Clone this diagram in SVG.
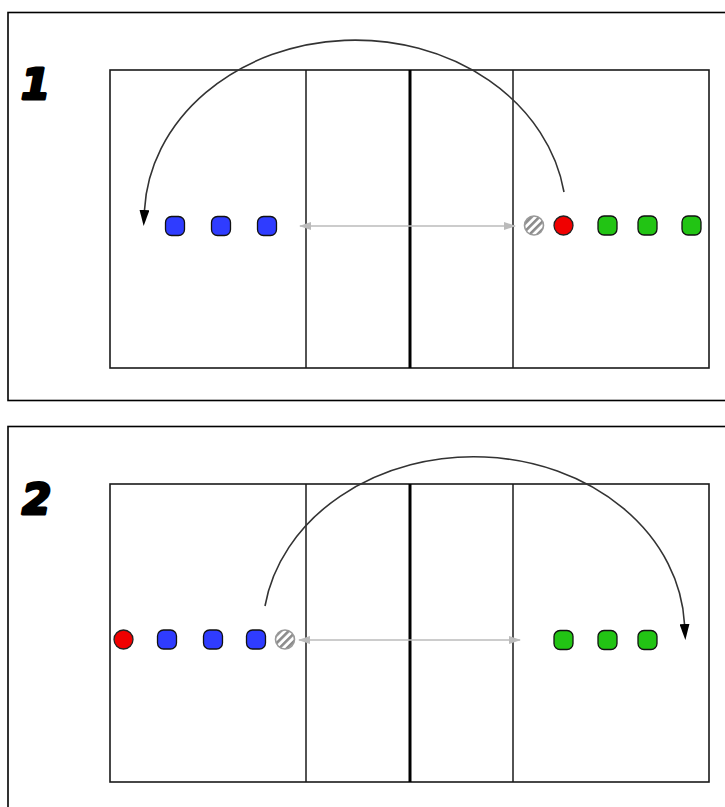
<svg xmlns="http://www.w3.org/2000/svg" width="725" height="807" viewBox="0 0 725 807">
<style>
.frame{fill:none;stroke:#000;stroke-width:1.6}
.court{fill:none;stroke:#1a1a1a;stroke-width:1.6}
.net{stroke:#000;stroke-width:3}
.line{stroke:#1a1a1a;stroke-width:1.5}
.num{font-family:"DejaVu Sans","Liberation Sans",sans-serif;font-weight:bold;font-style:italic;font-size:42px;fill:#000;stroke:#000;stroke-width:3;stroke-linejoin:round}
.blue{fill:#2f3cff;stroke:#111;stroke-width:1.3}
.green{fill:#22c414;stroke:#111;stroke-width:1.3}
.red{fill:#f00000;stroke:#222;stroke-width:1.3}
.ball{fill:url(#hatch);stroke:#999;stroke-width:1.6}
.arc{fill:none;stroke:#333;stroke-width:1.6}
.pass{stroke:#bbb;stroke-width:1.6}
</style>
<defs>
<pattern id="hatch" patternUnits="userSpaceOnUse" width="5.5" height="5.5" patternTransform="rotate(-45)">
<rect width="5.5" height="5.5" fill="#fff"/>
<rect width="5.5" height="2.6" fill="#8a8a8a"/>
</pattern>
<marker id="ah" markerUnits="userSpaceOnUse" markerWidth="16" markerHeight="10" refX="0" refY="5" orient="auto">
<path d="M0,0 L16,5 L0,10 Z" fill="#000"/>
</marker>
<marker id="ga" markerUnits="userSpaceOnUse" markerWidth="12" markerHeight="8" refX="11" refY="4" orient="auto-start-reverse">
<path d="M0,0 L12,4 L0,8 Z" fill="#bbb"/>
</marker>
</defs>

<g id="panel1">
<rect class="frame" x="8" y="12.5" width="730" height="388"/>
<text class="num" x="21" y="99">1</text>
<g id="court1">
<rect class="court" x="110" y="70" width="599" height="298"/>
<line class="line" x1="306" y1="70" x2="306" y2="368"/>
<line class="net" x1="410" y1="70" x2="410" y2="368"/>
<line class="line" x1="513" y1="70" x2="513" y2="368"/>
</g>
</g>

<g id="panel2">
<rect class="frame" x="8" y="426.5" width="730" height="400"/>
<text class="num" x="22" y="514">2</text>
<g id="court2">
<rect class="court" x="110" y="484" width="599" height="298"/>
<line class="line" x1="306" y1="484" x2="306" y2="782"/>
<line class="net" x1="410" y1="484" x2="410" y2="782"/>
<line class="line" x1="513" y1="484" x2="513" y2="782"/>
</g>
</g>

<g id="connectors">
<path class="arc" d="M564,192 A211,178 0 0 0 144.5,210" marker-end="url(#ah)"/>
<line class="pass" x1="300" y1="226" x2="515" y2="226" marker-start="url(#ga)" marker-end="url(#ga)"/>
<path class="arc" d="M265,606 A211,175 0 0 1 684.5,624" marker-end="url(#ah)"/>
<line class="pass" x1="299" y1="640" x2="520" y2="640" marker-start="url(#ga)" marker-end="url(#ga)"/>
</g>

<g id="players1">
<rect id="b1a" class="blue" x="165.5" y="216.5" width="19" height="19" rx="6"/>
<rect id="b1b" class="blue" x="211.5" y="216.5" width="19" height="19" rx="6"/>
<rect id="b1c" class="blue" x="257.5" y="216.5" width="19" height="19" rx="6"/>
<circle id="ball1" class="ball" cx="534" cy="225.5" r="9.5"/>
<circle id="r1" class="red" cx="563.5" cy="225.5" r="9.5"/>
<rect id="g1a" class="green" x="598" y="216" width="19" height="19" rx="6"/>
<rect id="g1b" class="green" x="638" y="216" width="19" height="19" rx="6"/>
<rect id="g1c" class="green" x="682" y="216" width="19" height="19" rx="6"/>
</g>

<g id="players2">
<circle id="r2" class="red" cx="123.5" cy="639.5" r="9.5"/>
<rect id="b2a" class="blue" x="157.5" y="630" width="19" height="19" rx="6"/>
<rect id="b2b" class="blue" x="203.5" y="630" width="19" height="19" rx="6"/>
<rect id="b2c" class="blue" x="246.5" y="630" width="19" height="19" rx="6"/>
<circle id="ball2" class="ball" cx="285" cy="639.5" r="9.5"/>
<rect id="g2a" class="green" x="554" y="630.5" width="19" height="19" rx="6"/>
<rect id="g2b" class="green" x="598" y="630.5" width="19" height="19" rx="6"/>
<rect id="g2c" class="green" x="638" y="630.5" width="19" height="19" rx="6"/>
</g>
</svg>
